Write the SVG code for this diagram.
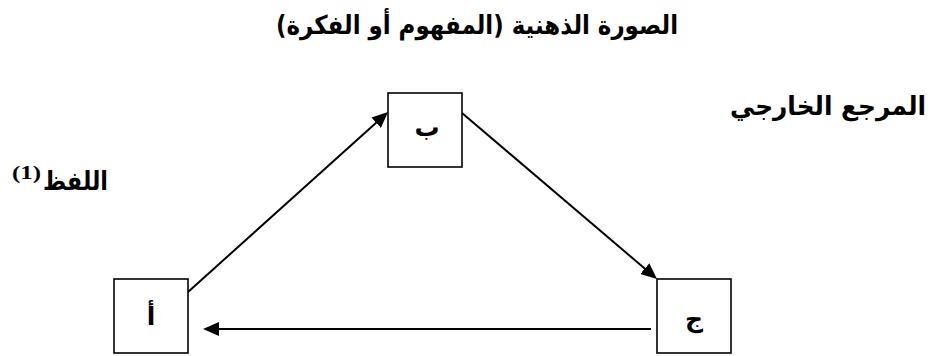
<svg xmlns="http://www.w3.org/2000/svg" width="936" height="356" viewBox="0 0 936 356">
<defs>
<style>
.box{fill:#fff;stroke:#000;stroke-width:1.6}
.lbl{font-family:"DejaVu Sans","Noto Sans",sans-serif;font-size:26px;font-weight:bold;fill:#000}
.nl{font-family:"DejaVu Sans","Noto Sans",sans-serif;font-size:25px;font-weight:bold;fill:#000}
.conn{stroke:#000;stroke-width:2;fill:none}
</style>
<marker id="ah" markerWidth="16" markerHeight="14" refX="6" refY="7" orient="auto" markerUnits="userSpaceOnUse" viewBox="0 0 16 14">
<path d="M0,0 L16,7 L0,14 z" fill="#000"/>
</marker>
</defs>
<rect width="936" height="356" fill="#fff"/>
<g id="title"><text class="lbl" x="276" y="34" textLength="402" lengthAdjust="spacingAndGlyphs">الصورة الذهنية (المفهوم أو الفكرة)</text></g>
<g id="ref-label"><text class="lbl" x="730" y="115" textLength="196" lengthAdjust="spacingAndGlyphs">المرجع الخارجي</text></g>
<g id="word-label"><text class="lbl" x="43" y="190" textLength="65" lengthAdjust="spacingAndGlyphs">اللفظ</text><text x="12" y="179" font-family="Liberation Serif,serif" font-weight="bold" font-size="18" textLength="29" lengthAdjust="spacingAndGlyphs">(1)</text></g>
<g id="connectors">
<line class="conn" x1="188" y1="292" x2="380.6" y2="118.7" marker-end="url(#ah)"/>
<line class="conn" x1="462" y1="113" x2="649.4" y2="272.5" marker-end="url(#ah)"/>
<line class="conn" x1="651" y1="329" x2="213" y2="329" marker-end="url(#ah)"/>
</g>
<g id="node-b"><rect class="box" x="388" y="93" width="74" height="74"/><text class="nl" x="427" y="136" text-anchor="middle">ب</text></g>
<g id="node-a"><rect class="box" x="114" y="279" width="74" height="74"/><text class="nl" x="151" y="325" text-anchor="middle">أ</text></g>
<g id="node-c"><rect class="box" x="657" y="279" width="74" height="74"/><text class="nl" x="694" y="327" text-anchor="middle">ج</text></g>
</svg>
